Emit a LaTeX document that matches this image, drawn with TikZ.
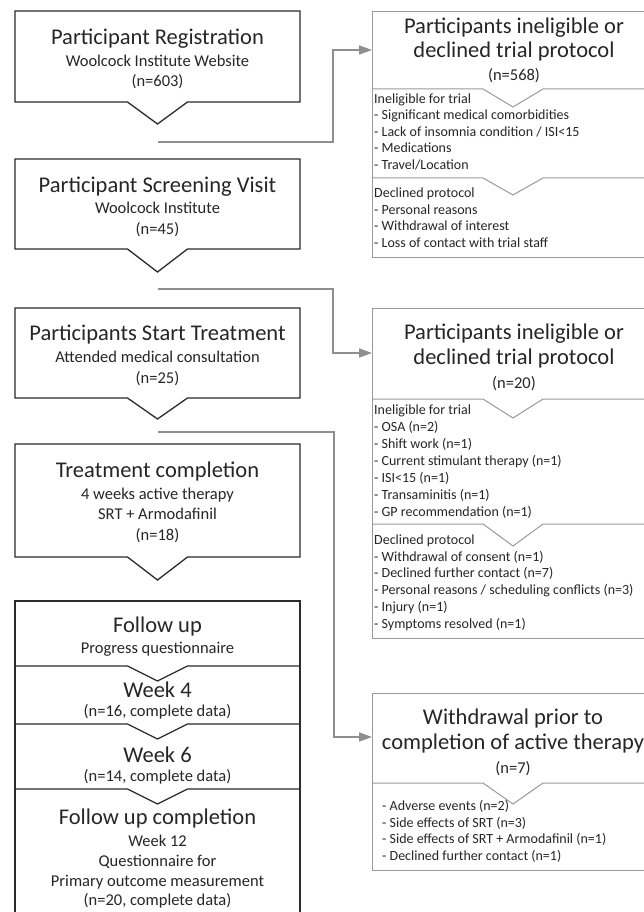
\documentclass[tikz,border=0pt]{standalone}
\usepackage{fontspec}
\setmainfont{Carlito}
\usetikzlibrary{arrows.meta}
\definecolor{txt}{HTML}{262626}
\definecolor{lbord}{HTML}{2B2B2B}
\definecolor{rbord}{HTML}{9A9A9A}
\definecolor{conncol}{HTML}{8E8E8E}
\tikzset{
  ttl/.style={font=\fontsize{22.5}{27}\selectfont, anchor=base, inner sep=0pt, text=txt},
  sub/.style={font=\fontsize{16.5}{20}\selectfont, anchor=base, inner sep=0pt, text=txt},
  itm/.style={font=\fontsize{14}{16}\selectfont, anchor=base west, inner sep=0pt, text=txt},
  lbox/.style={draw=lbord, line width=1.3pt, line join=miter},
  rbox/.style={draw=rbord, line width=1pt},
  conn/.style={draw=conncol, line width=1.5pt, -{Triangle[length=13pt,width=9pt]}},
}
\begin{document}
\begin{tikzpicture}[x=1pt,y=-1pt]
\useasboundingbox (0,0) rectangle (644,912);
\clip (0,0) rectangle (644,912);
\fill[white] (0,0) rectangle (644,912);

% ---------- left column boxes ----------
% box 1
\draw[lbox] (15,11) -- (300,11) -- (300,102) -- (187.5,102) -- (157.5,124) -- (127.5,102) -- (15,102) -- cycle;
\node[ttl] (b1t) at (157.5,45) {Participant Registration};
\node[sub] (b1a) at (157.5,66.5) {Woolcock Institute Website};
\node[sub] (b1b) at (157.5,87) {(n=603)};
\coordinate (c1) at (158,142);

% box 2
\draw[lbox] (15,159) -- (300,159) -- (300,249) -- (187.5,249) -- (157.5,272) -- (127.5,249) -- (15,249) -- cycle;
\node[ttl] (b2t) at (157.5,192.5) {Participant Screening Visit};
\node[sub] (b2a) at (157.5,213.5) {Woolcock Institute};
\node[sub] (b2b) at (157.5,234) {(n=45)};
\coordinate (c2) at (158,289);

% box 3
\draw[lbox] (15,308) -- (300,308) -- (300,398) -- (187.5,398) -- (157.5,419) -- (127.5,398) -- (15,398) -- cycle;
\node[ttl] (b3t) at (157.5,340) {Participants Start Treatment};
\node[sub] (b3a) at (157.5,362.5) {Attended medical consultation};
\node[sub] (b3b) at (157.5,383) {(n=25)};
\coordinate (c3) at (158,432);

% box 4
\draw[lbox] (15,444) -- (300,444) -- (300,557) -- (187.5,557) -- (157.5,580) -- (127.5,557) -- (15,557) -- cycle;
\node[ttl] (b4t) at (157.5,477) {Treatment completion};
\node[sub] (b4a) at (157.5,499) {4 weeks active therapy};
\node[sub] (b4b) at (157.5,519.5) {SRT + Armodafinil};
\node[sub] (b4c) at (157.5,540) {(n=18)};

% box 5 (follow up stack)
\draw[lbox] (15,930) -- (15,601) -- (300,601) -- (300,930);
\draw[lbox] (15,666) -- (127.5,666) -- (157.5,681) -- (187.5,666) -- (300,666);
\draw[lbox] (15,724) -- (127.5,724) -- (157.5,739) -- (187.5,724) -- (300,724);
\draw[lbox] (15,789) -- (127.5,789) -- (157.5,804) -- (187.5,789) -- (300,789);
\node[ttl] (b5t) at (157.5,632) {Follow up};
\node[sub] (b5a) at (157.5,653) {Progress questionnaire};
\node[ttl] (b6t) at (157.5,697) {Week 4};
\node[sub] (b6a) at (157.5,716) {(n=16, complete data)};
\node[ttl] (b7t) at (157.5,762) {Week 6};
\node[sub] (b7a) at (157.5,781) {(n=14, complete data)};
\node[ttl] (b8t) at (157.5,824) {Follow up completion};
\node[sub] (b8a) at (157.5,846) {Week 12};
\node[sub] (b8b) at (157.5,866.5) {Questionnaire for};
\node[sub] (b8c) at (157.5,886.5) {Primary outcome measurement};
\node[sub] (b8d) at (157.5,905.5) {(n=20, complete data)};

% ---------- right column boxes ----------
% right box 1
\draw[rbox] (660,12) -- (372,12) -- (372,257) -- (660,257);
\draw[rbox] (372,89) -- (483,89) -- (513,107) -- (543,89) -- (660,89);
\draw[rbox] (372,178) -- (483,178) -- (513,195) -- (543,178) -- (660,178);
\coordinate (r1) at (372,50);
\node[ttl] (r1t) at (514,34) {Participants ineligible or};
\node[ttl] (r1u) at (514,58) {declined trial protocol};
\node[sub] (r1n) at (514,80.5) {(n=568)};
\node[itm] (r1h) at (374,103.5) {Ineligible for trial};
\node[itm] (r1i1) at (374,120) {- Significant medical comorbidities};
\node[itm] (r1i2) at (374,136.5) {- Lack of insomnia condition / ISI<15};
\node[itm] (r1i3) at (374,153) {- Medications};
\node[itm] (r1i4) at (374,169.5) {- Travel/Location};
\node[itm] (r1h2) at (374,197.5) {Declined protocol};
\node[itm] (r1j1) at (374,214) {- Personal reasons};
\node[itm] (r1j2) at (374,230.5) {- Withdrawal of interest};
\node[itm] (r1j3) at (374,247) {- Loss of contact with trial staff};

% right box 2
\draw[rbox] (660,308) -- (372,308) -- (372,638) -- (660,638);
\draw[rbox] (372,399) -- (483,399) -- (513,418) -- (543,399) -- (660,399);
\draw[rbox] (372,524) -- (483,524) -- (513,546) -- (543,524) -- (660,524);
\coordinate (r2) at (372,353);
\node[ttl] (r2t) at (514,339) {Participants ineligible or};
\node[ttl] (r2u) at (514,364) {declined trial protocol};
\node[sub] (r2n) at (514,388) {(n=20)};
\node[itm] (r2h) at (374,414) {Ineligible for trial};
\node[itm] (r2i1) at (374,431) {- OSA (n=2)};
\node[itm] (r2i2) at (374,448) {- Shift work (n=1)};
\node[itm] (r2i3) at (374,465) {- Current stimulant therapy (n=1)};
\node[itm] (r2i4) at (374,482) {- ISI<15 (n=1)};
\node[itm] (r2i5) at (374,499) {- Transaminitis (n=1)};
\node[itm] (r2i6) at (374,516) {- GP recommendation (n=1)};
\node[itm] (r2h2) at (374,544) {Declined protocol};
\node[itm] (r2j1) at (374,561) {- Withdrawal of consent (n=1)};
\node[itm] (r2j2) at (374,577.5) {- Declined further contact (n=7)};
\node[itm] (r2j3) at (374,594.5) {- Personal reasons / scheduling conflicts (n=3)};
\node[itm] (r2j4) at (374,611) {- Injury (n=1)};
\node[itm] (r2j5) at (374,628) {- Symptoms resolved (n=1)};

% right box 3
\draw[rbox] (660,693) -- (372,693) -- (372,870) -- (660,870);
\draw[rbox] (372,783) -- (483,783) -- (513,804) -- (543,783) -- (660,783);
\coordinate (r3) at (372,737);
\node[ttl] (r3t) at (513,724) {Withdrawal prior to};
\node[ttl] (r3u) at (513,749) {completion of active therapy};
\node[sub] (r3n) at (513,773) {(n=7)};
\node[itm] (r3i1) at (382,810.5) {- Adverse events (n=2)};
\node[itm] (r3i2) at (382,827) {- Side effects of SRT (n=3)};
\node[itm] (r3i3) at (382,843.5) {- Side effects of SRT + Armodafinil (n=1)};
\node[itm] (r3i4) at (382,860) {- Declined further contact (n=1)};

% ---------- connectors ----------
\draw[conn] (c1) -- ++(175,0) |- (r1);
\draw[conn] (c2) -- ++(175,0) |- (r2);
\draw[conn] (c3) -- ++(176,0) |- (r3);
\end{tikzpicture}
\end{document}
